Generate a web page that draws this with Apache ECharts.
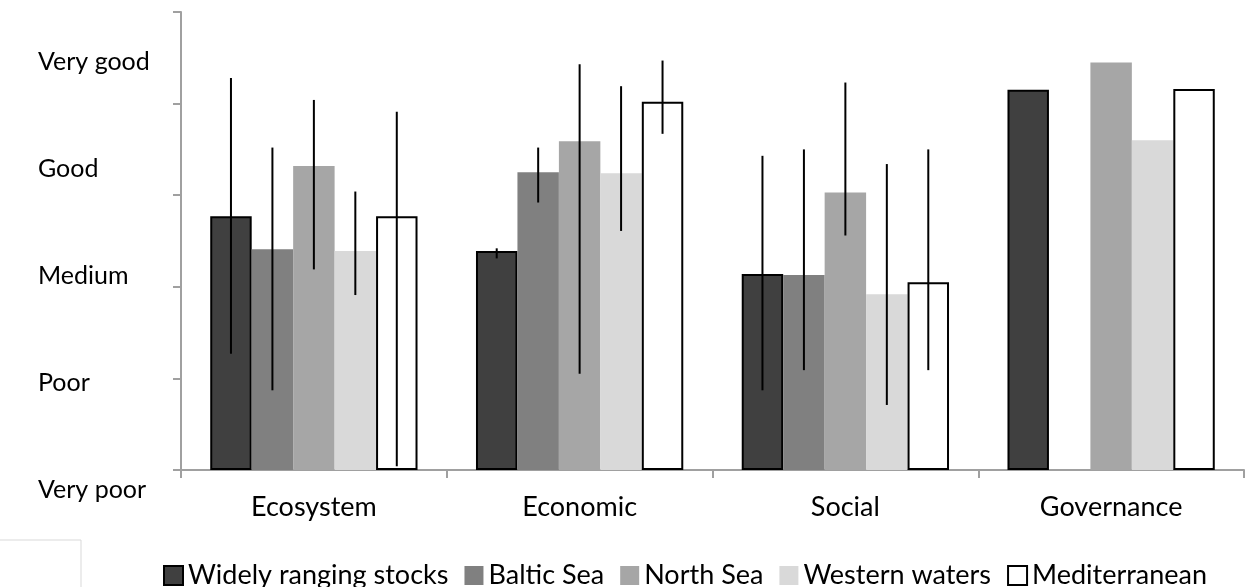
<!DOCTYPE html>
<html>
<head>
<meta charset="utf-8">
<title>Stock status by region</title>
<script src="https://cdn.jsdelivr.net/npm/echarts@6/dist/echarts.min.js"></script>
<style>
  html, body { margin: 0; padding: 0; background: #fff; }
  #chart { width: 1251px; height: 587px; }
</style>
</head>
<body>
<div id="chart"></div>
<script>
// Pillars on the x axis
const categories = ['Ecosystem', 'Economic', 'Social', 'Governance'];

// Region series names (legend order)
const seriesNames = ['Widely ranging stocks', 'Baltic Sea', 'North Sea', 'Western waters', 'Mediterranean'];

// Mean scores (0 = very poor ... 5 = top of scale)
const widelyRanging = [2.77, 2.39, 2.14, 4.15];
const balticSea     = [2.41, 3.25, 2.13, null];
const northSea      = [3.32, 3.59, 3.03, 4.45];
const westernWaters = [2.39, 3.24, 1.92, 3.60];
const mediterranean = [2.77, 4.02, 2.05, 4.16];

// Ranges [low, high] shown as whiskers; null where no range is given
const widelyRangingRange = [[1.27, 4.28], [2.31, 2.42], [0.87, 3.43], null];
const balticSeaRange     = [[0.87, 3.52], [2.92, 3.52], [1.09, 3.50], null];
const northSeaRange      = [[2.19, 4.04], [1.05, 4.43], [2.56, 4.23], null];
const westernWatersRange = [[1.91, 3.04], [2.61, 4.19], [0.71, 3.34], null];
const mediterraneanRange = [[0.04, 3.91], [3.67, 4.47], [1.09, 3.50], null];

// Qualitative scale words, top to bottom
const levelLabels = ['Very good', 'Good', 'Medium', 'Poor', 'Very poor'];

const FONT = 'Lato, "Open Sans", sans-serif';
const GAP_RATIO = 0.22;

const values = [widelyRanging, balticSea, northSea, westernWaters, mediterranean];
const ranges = [widelyRangingRange, balticSeaRange, northSeaRange, westernWatersRange, mediterraneanRange];
const fills = ['#404040', '#808080', '#a6a6a6', '#d9d9d9', '#ffffff'];
const borders = [2, 0, 0, 0, 2];

const barSeries = seriesNames.map((name, i) => ({
  name: name,
  type: 'bar',
  data: values[i],
  barCategoryGap: (GAP_RATIO * 100) + '%',
  barGap: '0%',
  itemStyle: {
    color: fills[i],
    borderColor: '#000',
    borderWidth: borders[i]
  },
  emphasis: { disabled: true }
}));

// One whisker per (category, series) pair
const whiskerData = [];
ranges.forEach((r, s) => {
  r.forEach((pair, c) => {
    if (pair) whiskerData.push([c, s, pair[0], pair[1]]);
  });
});

const whiskerSeries = {
  type: 'custom',
  z: 5,
  silent: true,
  data: whiskerData,
  encode: { x: 0, y: [2, 3] },
  renderItem: function (params, api) {
    const c = api.value(0);
    const s = api.value(1);
    const bandW = api.size([1, 0])[0];
    const barW = bandW * (1 - GAP_RATIO) / seriesNames.length;
    const x = api.coord([c, 0])[0] + (s - (seriesNames.length - 1) / 2) * barW;
    const lo = api.coord([c, api.value(2)])[1];
    const hi = api.coord([c, api.value(3)])[1];
    return {
      type: 'line',
      shape: { x1: x, y1: lo, x2: x, y2: hi },
      style: { stroke: '#000', lineWidth: 2 }
    };
  }
};

// Scale words sit in a column left of the value axis
const levelGraphics = levelLabels.map((t, i) => ({
  type: 'text',
  x: 38,
  y: 62 + i * 107,
  style: { text: t, font: '25px ' + FONT, fill: '#000', verticalAlign: 'middle' }
}));

const chart = echarts.init(document.getElementById('chart'));
chart.setOption({
  animation: false,
  backgroundColor: '#fff',
  grid: { left: 181, right: 7, top: 12, bottom: 117, containLabel: false },
  legend: {
    data: seriesNames,
    left: 158,
    top: 557,
    itemWidth: 19,
    itemHeight: 19,
    itemGap: 16,
    icon: 'rect',
    textStyle: { fontFamily: FONT, fontSize: 27, color: '#000' }
  },
  xAxis: {
    type: 'category',
    data: categories,
    axisLine: { lineStyle: { color: '#a0a0a0', width: 2 } },
    axisTick: { show: true, length: 8, lineStyle: { color: '#a0a0a0', width: 2 } },
    axisLabel: { fontFamily: FONT, fontSize: 27, color: '#000', margin: 24 }
  },
  yAxis: {
    type: 'value',
    min: 0,
    max: 5,
    interval: 1,
    axisLine: { show: true, lineStyle: { color: '#a0a0a0', width: 2 } },
    axisTick: { show: true, length: 8, lineStyle: { color: '#a0a0a0', width: 2 } },
    axisLabel: { show: false },
    splitLine: { show: false }
  },
  graphic: levelGraphics.concat([{
    type: 'rect',
    shape: { x: -2, y: 540, width: 83, height: 60 },
    style: { fill: 'none', stroke: '#d9d9d9', lineWidth: 1 },
    silent: true
  }]),
  series: barSeries.concat([whiskerSeries])
});
</script>
</body>
</html>
